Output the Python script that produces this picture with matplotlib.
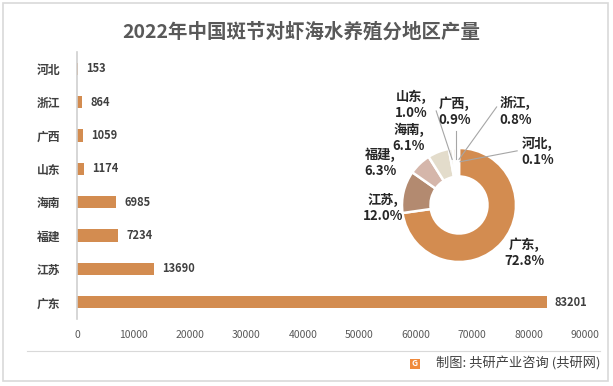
import matplotlib
matplotlib.use("Agg")
import matplotlib.pyplot as plt
from matplotlib.patches import Rectangle
from matplotlib.lines import Line2D

plt.rcParams['font.family'] = ['Noto Sans CJK SC', 'DejaVu Sans']

regions = ["河北", "浙江", "广西", "山东", "海南", "福建", "江苏", "广东"]
values = [153, 864, 1059, 1174, 6985, 7234, 13690, 83201]
xticks = [0, 10000, 20000, 30000, 40000, 50000, 60000, 70000, 80000, 90000]

pie_regions = ["广东", "江苏", "福建", "海南", "山东", "广西", "浙江", "河北"]
pie_values = [83201, 13690, 7234, 6985, 1174, 1059, 864, 153]
pie_colors = ["#D38C50", "#B38A70", "#D5B6AA", "#E3DCCB", "#E8E2D6", "#EEE6DA", "#F0E4D0", "#F3EBE0"]

W, H = 613, 386
fig = plt.figure(figsize=(W / 100, H / 100), dpi=100)
fig.patch.set_facecolor("white")

# outer border
fig.add_artist(Rectangle((3 / W, 1 - 381 / H), 605 / W, 378 / H, transform=fig.transFigure,
                         fill=False, edgecolor="#D9D9D9", linewidth=1.2))

fig.text(301.5 / W, 1 - 31.5 / H, "2022年中国斑节对虾海水养殖分地区产量", ha="center", va="center",
         fontsize=14, fontweight="bold", color="#595959")

# bar axes
ax = fig.add_axes([77 / W, 1 - 319 / H, (585 - 77) / W, (319 - 52) / H])
ypos = list(range(len(regions)))
ax.barh(ypos, values, height=0.37, color="#D38C50")
ax.set_xlim(0, 90000)
ax.set_ylim(len(regions) - 0.5, -0.5)
ax.set_yticks(ypos)
ax.set_yticklabels(regions, fontsize=8.5, fontweight="bold", color="#404040")
ax.set_xticks(xticks)
ax.set_xticklabels([str(t) for t in xticks], fontsize=7.5, color="#595959")
ax.tick_params(axis="both", length=0)
ax.tick_params(axis="y", pad=12)
ax.tick_params(axis="x", pad=8)
for s in ["top", "right", "bottom"]:
    ax.spines[s].set_visible(False)
ax.spines["left"].set_color("#D0D0D0")
ax.spines["left"].set_linewidth(1.2)
ax.patch.set_alpha(0)
for y, v in zip(ypos, values):
    ax.annotate(str(v), (v, y), xytext=(6, 0), textcoords="offset points", ha="left", va="center",
                fontsize=8, fontweight="bold", color="#404040")

# donut axes
cx, cy, r = 459, 205, 57
pax = fig.add_axes([(cx - r) / W, 1 - (cy + r) / H, 2 * r / W, 2 * r / H])
total = sum(pie_values)
wedges, _ = pax.pie(pie_values, colors=pie_colors, startangle=90, counterclock=False, radius=1.0,
                    wedgeprops=dict(width=0.5, edgecolor="white", linewidth=1.8))
pax.set_xlim(-1, 1)
pax.set_ylim(-1, 1)
pax.set_aspect("auto")

label_pos = {
    "广东": (1.14, -0.84),
    "江苏": (-1.34, -0.05),
    "福建": (-1.38, 0.74),
    "海南": (-0.88, 1.18),
    "山东": (-0.84, 1.76),
    "广西": (-0.08, 1.64),
    "浙江": (0.99, 1.64),
    "河北": (1.38, 0.93),
}
leaders = {
    "山东": ((-0.40, 1.65), (-0.12, 0.80)),
    "广西": ((-0.06, 1.30), (-0.06, 0.80)),
    "浙江": ((0.66, 1.72), (0.0, 0.80)),
    "河北": ((1.02, 0.95), (0.02, 0.76)),
}
for name, v in zip(pie_regions, pie_values):
    pct = v / total * 100
    x, y = label_pos[name]
    pax.text(x, y, f"{name},\n{pct:.1f}%", ha="center", va="center", fontsize=9.5,
             fontweight="bold", color="#262626", linespacing=1.2)
for name, (p0, p1) in leaders.items():
    pax.add_line(Line2D([p0[0], p1[0]], [p0[1], p1[1]], color="#A6A6A6", linewidth=0.8, clip_on=False))

# footer separator
fig.add_artist(Line2D([27 / W, 600 / W], [1 - 351 / H, 1 - 351 / H], transform=fig.transFigure,
                      color="#D9D9D9", linewidth=0.8))
# footer logo
fig.add_artist(Rectangle((410 / W, 1 - 369 / H), 10 / W, 10 / H, transform=fig.transFigure,
                         facecolor="#F08A3C", edgecolor="none"))
fig.text(415 / W, 1 - 364 / H, "G", ha="center", va="center", fontsize=6, fontweight="bold",
         color="white")
fig.text(600 / W, 1 - 364 / H, "制图: 共研产业咨询 (共研网)", ha="right", va="center",
         fontsize=9.5, color="#404040")

fig.savefig("out.png", dpi=100, facecolor="white")
